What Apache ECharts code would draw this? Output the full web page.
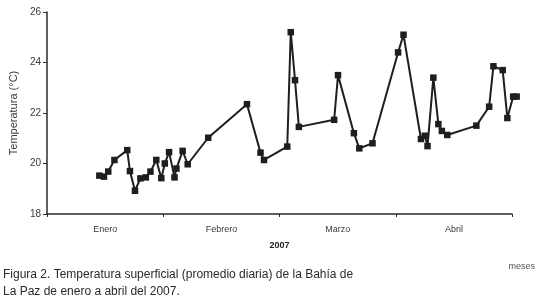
<!DOCTYPE html>
<html>
<head>
<meta charset="utf-8">
<script src="https://cdn.jsdelivr.net/npm/echarts@6/dist/echarts.min.js"></script>
<style>
  html, body { margin: 0; padding: 0; background: #fff; }
  #chart { width: 543px; height: 301px; }
</style>
</head>
<body>
<div id="chart"></div>
<script>
// day within the Jan-Apr period (each month drawn as 30 days)
const days = [13.5, 14.7, 15.8, 17.4, 20.7, 21.4, 22.7, 24.1, 25.5, 26.7, 28.2, 29.5, 30.4, 31.5, 32.9, 33.4, 35.0, 36.3,
  41.6, 51.6, 55.1, 56.0, 62.0, 62.9, 64.0, 65.0, 74.1, 75.1, 79.2, 80.6, 84.0, 90.6, 92.0, 96.5, 97.5, 98.2,
  99.7, 101.0, 101.9, 103.3, 110.8, 114.1, 115.2, 117.6, 118.8, 120.3, 121.2];
const temps = [19.52, 19.48, 19.68, 20.14, 20.53, 19.70, 18.92, 19.41, 19.45, 19.68, 20.14, 19.42, 20.0, 20.45, 19.45, 19.8, 20.5, 19.97,
  21.02, 22.35, 20.43, 20.14, 20.67, 25.2, 23.3, 21.45, 21.73, 23.5, 21.2, 20.6, 20.8, 24.4, 25.1, 20.97, 21.1, 20.69,
  23.4, 21.56, 21.29, 21.13, 21.5, 22.25, 23.85, 23.7, 21.8, 22.65, 22.65];
const months = ['Enero', 'Febrero', 'Marzo', 'Abril'];

const chart = echarts.init(document.getElementById('chart'));
const axisColor = '#2b2b2b';
const labelColor = '#3a3a3a';

chart.setOption({
  animation: false,
  grid: { left: 42, right: 31, top: 12, bottom: 87 },
  xAxis: [
    {
      type: 'value',
      min: 0,
      max: 120,
      interval: 30,
      axisLine: { lineStyle: { color: axisColor, width: 1.5 } },
      axisTick: { length: 3, lineStyle: { color: axisColor } },
      axisLabel: { show: false },
      splitLine: { show: false },
      name: '2007',
      nameLocation: 'middle',
      nameGap: 27,
      nameTextStyle: { color: '#222', fontSize: 9, fontWeight: 'bold', fontFamily: 'Liberation Sans' }
    },
    {
      type: 'category',
      position: 'bottom',
      data: months,
      boundaryGap: true,
      axisLine: { show: false },
      axisTick: { show: false },
      axisLabel: { color: labelColor, fontSize: 9, fontFamily: 'Liberation Sans', margin: 11 }
    }
  ],
  yAxis: {
    type: 'value',
    min: 18,
    max: 26,
    interval: 2,
    axisLine: { show: true, lineStyle: { color: axisColor, width: 1.5 } },
    axisTick: { show: true, length: 4, lineStyle: { color: axisColor } },
    axisLabel: { color: labelColor, fontSize: 10, fontFamily: 'Liberation Sans', margin: 6 },
    splitLine: { show: false },
    name: 'Temperatura (°C)',
    nameLocation: 'middle',
    nameGap: 28,
    nameTextStyle: { color: labelColor, fontSize: 11, fontFamily: 'Liberation Sans Narrow, Liberation Sans' }
  },
  series: [{
    type: 'line',
    data: days.map((d, i) => [d, temps[i]]),
    clip: false,
    symbol: 'rect',
    symbolSize: 6.5,
    itemStyle: { color: '#1e1e1e' },
    lineStyle: { color: '#1e1e1e', width: 2 }
  }],
  graphic: [
    {
      type: 'text', right: 8, top: 262,
      style: { text: 'meses', fill: '#555', fontSize: 9, fontFamily: 'Liberation Sans Narrow, Liberation Sans' }
    },
    {
      type: 'text', left: 3, top: 266,
      style: {
        text: 'Figura 2. Temperatura superficial (promedio diaria) de la Bahía de\nLa Paz de enero a abril del 2007.',
        fill: '#2a2a2a', fontSize: 12, lineHeight: 17,
        fontFamily: 'Liberation Sans Narrow, Liberation Sans'
      }
    }
  ]
});
</script>
</body>
</html>
